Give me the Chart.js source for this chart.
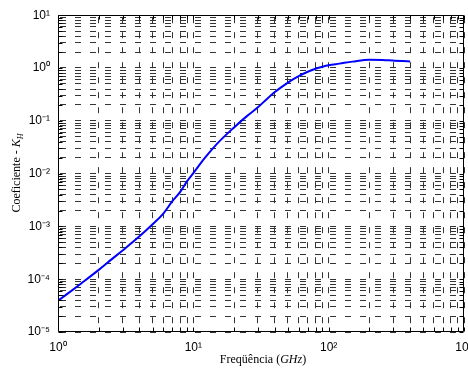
<!DOCTYPE html>
<html>
<head>
<meta charset="utf-8">
<script src="https://cdn.jsdelivr.net/npm/chart.js@4/dist/chart.umd.min.js"></script>
<style>
body { margin: 0; background: #fff; }
</style>
</head>
<body>
<canvas id="canvas" width="468" height="368"></canvas>
<script>
// frequency (GHz) and coefficient k_H
const freq = [1, 1.5, 2, 2.5, 3, 4, 5, 6, 7, 8, 9, 10, 12, 15, 20, 25, 30, 35, 40, 45, 50, 60, 70, 80, 90, 100, 120, 150, 200, 250, 300, 350, 400];
const kH = [3.9e-5, 8.5e-5, 1.5e-4, 2.4e-4, 3.5e-4, 6.5e-4, 1.1e-3, 1.75e-3, 3.0e-3, 4.5e-3, 7.2e-3, 1.02e-2, 1.9e-2, 3.7e-2, 7.5e-2, 0.124, 0.18, 0.26, 0.35, 0.44, 0.53, 0.70, 0.85, 0.97, 1.06, 1.13, 1.21, 1.32, 1.44, 1.42, 1.38, 1.35, 1.33];
const xExps = [0, 1, 2, 3];
const yExps = [-5, -4, -3, -2, -1, 0, 1];

const sup = {'0':'⁰','1':'¹','2':'²','3':'³','4':'⁴','5':'⁵','6':'⁶','7':'⁷','8':'⁸','9':'⁹','-':'⁻'};
function powLabel(v){
    var e = Math.round(Math.log10(v));
    if (Math.abs(v / Math.pow(10, e) - 1) > 1e-9) return '';
    return '10' + String(e).split('').map(c => sup[c]).join('');
}
function logTicks(exps){
    var t = [];
    for (var i = 0; i < exps.length - 1; i++){
        for (var m = 1; m < 10; m++) t.push({value: m * Math.pow(10, exps[i])});
    }
    t.push({value: Math.pow(10, exps[exps.length - 1])});
    return t;
}

const points = freq.map((f, i) => ({x: f, y: kH[i]}));

// box, inward tick marks and the two axis titles (mixed italic / subscript)
const decor = {
    id: 'decor',
    afterDatasetsDraw(chart){
        const ctx = chart.ctx, a = chart.chartArea;
        const l = Math.round(a.left) + 0.5, r = Math.round(a.right) - 0.5;
        const t = Math.round(a.top) + 0.5, b = Math.round(a.bottom) - 0.5;
        ctx.save();
        ctx.strokeStyle = '#000';
        ctx.lineWidth = 1;
        ctx.beginPath();
        ctx.rect(l, t, r - l, b - t);
        chart.scales.x.ticks.forEach(tk => {
            var px = Math.round(chart.scales.x.getPixelForValue(tk.value)) + 0.5;
            ctx.moveTo(px, b); ctx.lineTo(px, b - 4);
            ctx.moveTo(px, t); ctx.lineTo(px, t + 4);
        });
        chart.scales.y.ticks.forEach(tk => {
            var py = Math.round(chart.scales.y.getPixelForValue(tk.value)) + 0.5;
            ctx.moveTo(l, py); ctx.lineTo(l + 4, py);
            ctx.moveTo(r, py); ctx.lineTo(r - 4, py);
        });
        ctx.stroke();
        ctx.restore();
    },
    afterDraw(chart){
        const ctx = chart.ctx;
        const serif = '"Liberation Serif", "Times New Roman", serif';
        ctx.save();
        ctx.fillStyle = '#000';
        ctx.textBaseline = 'alphabetic';
        // x title
        var parts = [['Freqüência (', '12px ' + serif], ['GHz', 'italic 12px ' + serif], [')', '12px ' + serif]];
        var w = 0;
        parts.forEach(p => { ctx.font = p[1]; w += ctx.measureText(p[0]).width; });
        var x = 263 - w / 2;
        parts.forEach(p => { ctx.font = p[1]; ctx.fillText(p[0], x, 363); x += ctx.measureText(p[0]).width; });
        // y title
        ctx.translate(20, 173);
        ctx.rotate(-Math.PI / 2);
        ctx.font = '12px ' + serif;
        var w1 = ctx.measureText('Coeficiente - ').width;
        ctx.font = 'italic 12px ' + serif;
        var w2 = ctx.measureText('K').width;
        ctx.font = 'italic 8px ' + serif;
        var w3 = ctx.measureText('H').width;
        var x0 = -(w1 + w2 + w3) / 2;
        ctx.font = '12px ' + serif;
        ctx.fillText('Coeficiente - ', x0, 0);
        ctx.font = 'italic 12px ' + serif;
        ctx.fillText('K', x0 + w1, 0);
        ctx.font = 'italic 8px ' + serif;
        ctx.fillText('H', x0 + w1 + w2, 3);
        ctx.restore();
    }
};

const tickFont = {family: '"Liberation Sans", Arial, sans-serif', size: 12};

const data = {
    datasets: [
        {
            label: 'kH',
            data: points,
            borderColor: '#0000ff',
            backgroundColor: '#0000ff',
            borderWidth: 2,
            pointRadius: 0,
            cubicInterpolationMode: 'monotone',
            fill: false,
        }
    ]
};

const config = {
    type: 'line',
    data: data,
    plugins: [decor],
    options: {
        responsive: false,
        animation: false,
        layout: {padding: {left: 0, top: 14, right: 4, bottom: 0}},
        plugins: {legend: {display: false}, tooltip: {enabled: false}},
        scales: {
            x: {
                type: 'logarithmic',
                min: 1,
                max: 1000,
                afterBuildTicks: s => { s.ticks = logTicks(xExps); },
                afterFit: s => { s.height = 36; s.paddingRight = 0; s.paddingLeft = 0; },
                ticks: {
                    autoSkip: false,
                    maxRotation: 0,
                    padding: 8,
                    color: '#000',
                    font: tickFont,
                    callback: v => powLabel(v),
                },
                grid: {color: '#333', lineWidth: 1, drawTicks: false},
                border: {display: false, dash: [6, 9], dashOffset: 13},
            },
            y: {
                type: 'logarithmic',
                min: 1e-5,
                max: 10,
                afterBuildTicks: s => { s.ticks = logTicks(yExps); },
                afterFit: s => { s.width = 58; },
                ticks: {
                    autoSkip: false,
                    padding: 8,
                    color: '#000',
                    font: tickFont,
                    callback: v => powLabel(v),
                },
                grid: {color: '#333', lineWidth: 1, drawTicks: false},
                border: {display: false, dash: [6, 9], dashOffset: 13},
            }
        }
    }
};

const canvas = document.getElementById('canvas');
const chart = new Chart(canvas, config);
</script>
</body>
</html>
